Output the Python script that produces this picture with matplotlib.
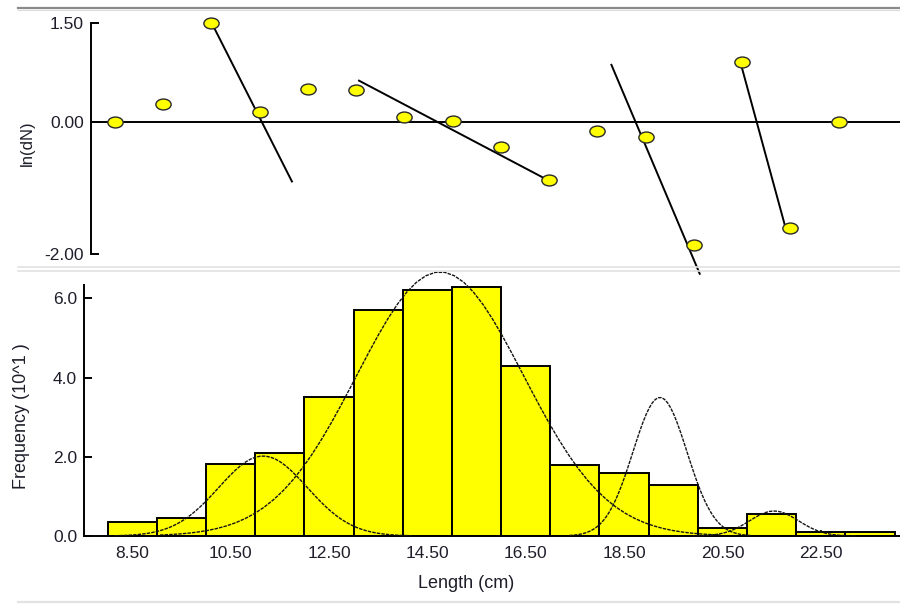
import numpy as np
import matplotlib
matplotlib.use("Agg")
import matplotlib.pyplot as plt
from matplotlib.lines import Line2D
from matplotlib.path import Path

plt.rcParams["font.family"] = ["Liberation Sans", "DejaVu Sans"]

# ---------------- data ----------------
# top panel: ln(dN) per length class
top_x = [8.5, 9.5, 10.5, 11.5, 12.5, 13.5, 14.5, 15.5, 16.5, 17.5,
         18.5, 19.5, 20.5, 21.5, 22.5, 23.5]
top_lndn = [0.00, 0.28, 1.51, 0.15, 0.51, 0.49, 0.08, 0.02, -0.38, -0.87,
            -0.13, -0.22, -1.87, 0.92, -1.60, 0.00]
# regression segments (x0, y0, x1, y1)
seg_x0 = [10.49, 13.56, 18.79, 21.47]
seg_y0 = [1.53, 0.63, 0.87, 0.89]
seg_x1 = [12.17, 17.45, 20.62, 22.39]
seg_y1 = [-0.90, -0.87, -2.30, -1.58]
top_yticks = [1.5, 0.0, -2.0]
top_yticklabels = ["1.50", "0.00", "-2.00"]

# bottom panel: length-frequency histogram (bin mid-lengths, frequency x10)
bin_mid = [8.5, 9.5, 10.5, 11.5, 12.5, 13.5, 14.5, 15.5, 16.5, 17.5,
           18.5, 19.5, 20.5, 21.5, 22.5, 23.5]
freq = [0.35, 0.45, 1.82, 2.10, 3.50, 5.72, 6.22, 6.30, 4.30, 1.80,
        1.60, 1.30, 0.20, 0.55, 0.09, 0.09]
# fitted normal components (mean, sd, peak height)
comp_mean = [11.16, 14.76, 19.23, 21.55]
comp_sd = [0.90, 1.70, 0.55, 0.50]
comp_peak = [2.02, 6.67, 3.50, 0.63]
bot_xticks = [8.5, 10.5, 12.5, 14.5, 16.5, 18.5, 20.5, 22.5]
bot_xticklabels = ["8.50", "10.50", "12.50", "14.50", "16.50", "18.50", "20.50", "22.50"]
bot_yticks = [0.0, 2.0, 4.0, 6.0]
bot_yticklabels = ["0.0", "2.0", "4.0", "6.0"]

# ---------------- figure ----------------
W, H = 900, 608
fig = plt.figure(figsize=(W / 100, H / 100), dpi=100)
fig.patch.set_facecolor("white")
txtc = "#1e1e2a"
fs = 12.5

def fx(px):
    return px / W

def fy(py):
    return 1 - py / H

# separators
for y, c, lw in [(8, "#8a8a8a", 1.6), (10, "#dcdcdc", 0.8),
                 (267, "#e2e2e2", 1.2), (271, "#e2e2e2", 1.2),
                 (602, "#e2e2e2", 1.6)]:
    fig.add_artist(Line2D([fx(18), 1.0], [fy(y), fy(y)], color=c, lw=lw,
                          transform=fig.transFigure))

# ---- top axes ----
axT = fig.add_axes([fx(90.7), fy(254), 1 - fx(90.7), fy(23.3) - fy(254)])
axT.set_xlim(8.0, 24.77)
axT.set_ylim(-2.0, 1.5)
for s in ["top", "right", "bottom"]:
    axT.spines[s].set_visible(False)
axT.spines["left"].set_linewidth(1.4)
axT.axhline(0, color="black", lw=1.4, zorder=2)
axT.set_xticks([])
axT.set_yticks(top_yticks)
axT.set_yticklabels(top_yticklabels)
axT.tick_params(axis="y", direction="in", length=6, width=1.4, pad=5,
                labelsize=fs, labelcolor=txtc)
for x0, y0, x1, y1 in zip(seg_x0, seg_y0, seg_x1, seg_y1):
    axT.plot([x0, x1], [y0, y1], color="black", lw=1.4, clip_on=False, zorder=3)
circ = Path.unit_circle()
ell = Path(circ.vertices * np.array([1.4, 1.0]), circ.codes)
axT.plot(top_x, top_lndn, linestyle="none", marker=ell, markersize=11,
         markerfacecolor="#ffff00", markeredgecolor="#2a2a2a",
         markeredgewidth=1.0, clip_on=False, zorder=4)
fig.text(fx(27), fy(143), "ln(dN)", rotation=90, ha="center", va="center",
         fontsize=12, color=txtc)

# ---- bottom axes ----
axB = fig.add_axes([fx(84), fy(536), 1 - fx(84), fy(285) - fy(536)])
axB.set_xlim(7.52, 24.11)
axB.set_ylim(0, 6.34)
for s in ["top", "right"]:
    axB.spines[s].set_visible(False)
axB.spines["left"].set_linewidth(1.4)
axB.spines["bottom"].set_linewidth(1.4)
axB.bar(bin_mid, freq, width=1.0, color="#ffff00", edgecolor="black",
        linewidth=1.4, zorder=2)
for m, sd, pk in zip(comp_mean, comp_sd, comp_peak):
    xs = np.linspace(m - 3.35 * sd, m + 3.35 * sd, 60)
    ys = pk * np.exp(-0.5 * ((xs - m) / sd) ** 2)
    axB.plot(xs, ys, color="#151515", lw=1.0, linestyle=(0, (2.5, 0.8)),
             clip_on=False, zorder=3)
axB.set_xticks(bot_xticks)
axB.set_xticklabels(bot_xticklabels)
axB.set_yticks(bot_yticks)
axB.set_yticklabels(bot_yticklabels)
axB.tick_params(axis="y", direction="in", length=6, width=1.4, pad=5,
                labelsize=fs, labelcolor=txtc)
axB.tick_params(axis="x", direction="in", length=4, width=1.2, pad=7,
                labelsize=fs, labelcolor=txtc)
fig.text(fx(22), fy(416), "Frequency (10^1 )", rotation=90, ha="center",
         va="center", fontsize=13, color=txtc)
fig.text(fx(466.5), fy(583), "Length (cm)", ha="center", va="center",
         fontsize=13, color=txtc)

fig.savefig("out.png", dpi=100, facecolor="white")
